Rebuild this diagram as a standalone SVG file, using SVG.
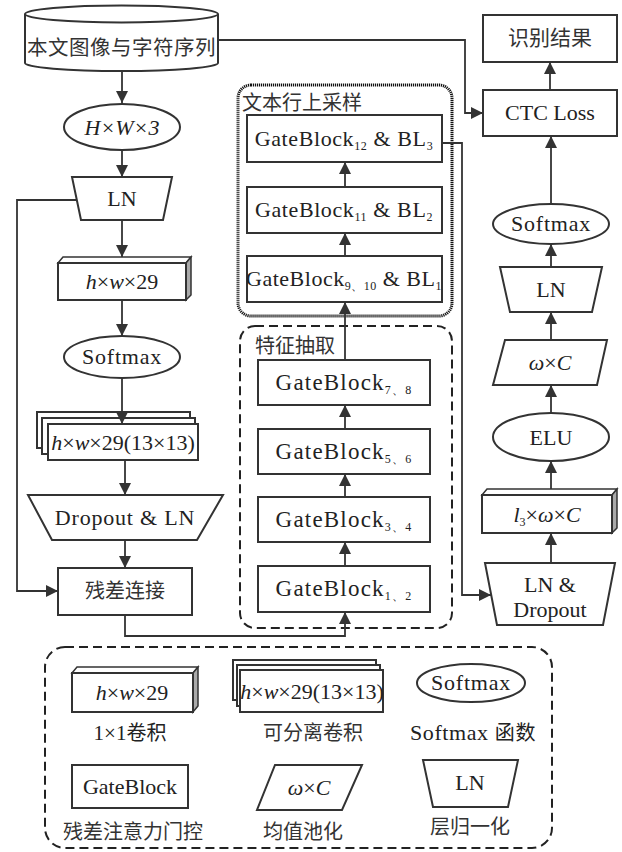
<svg xmlns="http://www.w3.org/2000/svg" width="622" height="852" viewBox="0 0 622 852">
<style>
.s{fill:#fff;stroke:#333;stroke-width:2}
.t{font-family:"Liberation Serif","DejaVu Serif",serif;font-size:22px;fill:#222;text-anchor:middle}
.g{font-size:23px;letter-spacing:1.2px}
.c{font-family:"Noto Sans CJK SC",sans-serif;font-size:20px;fill:#333;text-anchor:middle}
.cj{font-family:"Noto Sans CJK SC",sans-serif;font-size:20px}
.i{font-style:italic}
.l{fill:none;stroke:#333;stroke-width:1.8}
.side{fill:#aaa;stroke:#333;stroke-width:1.5}
.top{fill:#fff;stroke:#333;stroke-width:1.5}
.dot{fill:none;stroke:#111;stroke-width:3;stroke-dasharray:1.2 0.8}
.dash{fill:none;stroke:#222;stroke-width:2;stroke-dasharray:9 5}
</style>
<defs>
<marker id="a" viewBox="0 0 12 12" refX="12" refY="6" markerWidth="12" markerHeight="13" markerUnits="userSpaceOnUse" orient="auto"><path d="M0,0 L12,6 L0,12 z" fill="#333"/></marker>
</defs>

<g id="upsample-group"><rect class="dot" x="238" y="85" width="214" height="231" rx="13"/><text class="c" x="302" y="110">文本行上采样</text></g>
<g id="feature-group"><rect class="dash" x="240" y="326" width="212" height="302" rx="15"/><text class="c" x="295" y="353">特征抽取</text></g>

<g id="input"><path class="s" d="M25,14 L25,63 A96.5,8 0 0 0 218,63 L218,14"/><ellipse class="s" cx="121.5" cy="14" rx="96.5" ry="8.5"/><text class="c" x="121.5" y="55" style="font-size:20.5px;letter-spacing:0.5px">本文图像与字符序列</text></g>
<g id="hw3"><ellipse class="s" cx="122" cy="127" rx="58" ry="23"/><text class="t i" x="122" y="135">H×W×3</text></g>
<g id="ln1"><path class="s" d="M72,177 L172,177 L163,220 L81,220 Z"/><text class="t" x="122" y="206">LN</text></g>
<g id="conv1"><path class="top" d="M58,263 L63,257 L191,257 L186,263 Z"/><path class="side" d="M186,263 L191,257 L191,295 L186,300 Z"/><rect class="s" x="58" y="263" width="128" height="37"/><text class="t" x="122" y="289"><tspan class="i">h</tspan>×<tspan class="i">w</tspan>×29</text></g>
<g id="softmax1"><ellipse class="s" cx="122" cy="357" rx="58" ry="21"/><text class="t" x="122" y="364" letter-spacing="0.8">Softmax</text></g>
<g id="sepconv"><rect class="s" x="37" y="412" width="153" height="36"/><rect class="s" x="42" y="418" width="153" height="36"/><rect class="s" x="48" y="424" width="150" height="36"/><text class="t" x="123" y="450"><tspan class="i">h</tspan>×<tspan class="i">w</tspan>×29(13×13)</text></g>
<g id="dropln"><path class="s" d="M28,495 L223,495 L197,540 L52,540 Z"/><text class="t" x="125" y="525" letter-spacing="0.8">Dropout &amp; LN</text></g>
<g id="residual"><rect class="s" x="58" y="568" width="134" height="47"/><text class="c" x="125" y="598">残差连接</text></g>

<g id="gb12"><rect class="s" x="247" y="115" width="195" height="47"/><text class="t" x="344" y="146" letter-spacing="0.6">GateBlock<tspan font-size="12" dy="4">12</tspan><tspan dy="-4"> &amp; BL</tspan><tspan font-size="12" dy="4">3</tspan></text></g>
<g id="gb11"><rect class="s" x="247" y="187" width="195" height="46"/><text class="t" x="344" y="217" letter-spacing="0.6">GateBlock<tspan font-size="12" dy="4">11</tspan><tspan dy="-4"> &amp; BL</tspan><tspan font-size="12" dy="4">2</tspan></text></g>
<g id="gb910"><rect class="s" x="247" y="256" width="195" height="46"/><text class="t" x="344" y="286" letter-spacing="0.5">GateBlock<tspan font-size="12" dy="4">9、10</tspan><tspan dy="-4"> &amp; BL</tspan><tspan font-size="12" dy="4">1</tspan></text></g>
<g id="gb78"><rect class="s" x="258" y="360" width="172" height="45"/><text class="t g" x="344" y="390">GateBlock<tspan font-size="12" dy="4">7、8</tspan></text></g>
<g id="gb56"><rect class="s" x="258" y="429" width="172" height="45"/><text class="t g" x="344" y="459">GateBlock<tspan font-size="12" dy="4">5、6</tspan></text></g>
<g id="gb34"><rect class="s" x="258" y="497" width="172" height="45"/><text class="t g" x="344" y="527">GateBlock<tspan font-size="12" dy="4">3、4</tspan></text></g>
<g id="gb12b"><rect class="s" x="258" y="566" width="172" height="46"/><text class="t g" x="344" y="596">GateBlock<tspan font-size="12" dy="4">1、2</tspan></text></g>

<g id="result"><rect class="s" x="483" y="15" width="134" height="47"/><text class="c" x="550" y="45" style="font-size:21px">识别结果</text></g>
<g id="ctc"><rect class="s" x="483" y="90" width="134" height="46"/><text class="t" x="550" y="120">CTC Loss</text></g>
<g id="softmax2"><ellipse class="s" cx="551" cy="224" rx="58" ry="20"/><text class="t" x="551" y="231" letter-spacing="0.8">Softmax</text></g>
<g id="ln2"><path class="s" d="M500,267 L602,267 L592,312 L510,312 Z"/><text class="t" x="551" y="297">LN</text></g>
<g id="pool"><path class="s" d="M505,340 L607,340 L597,385 L493,385 Z"/><text class="t" x="550" y="370"><tspan class="i">ω</tspan>×<tspan class="i">C</tspan></text></g>
<g id="elu"><ellipse class="s" cx="551" cy="437" rx="58" ry="24"/><text class="t" x="551" y="445">ELU</text></g>
<g id="conv2"><path class="top" d="M482,495 L487,489 L617,489 L612,495 Z"/><path class="side" d="M612,495 L617,489 L617,528 L612,533 Z"/><rect class="s" x="482" y="495" width="130" height="38"/><text class="t" x="547" y="522"><tspan class="i">l</tspan><tspan font-size="12" dy="4">3</tspan><tspan dy="-4">×</tspan><tspan class="i">ω</tspan>×<tspan class="i">C</tspan></text></g>
<g id="lndrop"><path class="s" d="M485,563 L615,563 L603,625 L497,625 Z"/><text class="t" x="550" y="592">LN &amp;</text><text class="t" x="550" y="617">Dropout</text></g>

<g id="connectors">
<path class="l" d="M122,72 V103" marker-end="url(#a)"/>
<path class="l" d="M122,150 V177" marker-end="url(#a)"/>
<path class="l" d="M122,220 V257" marker-end="url(#a)"/>
<path class="l" d="M122,300 V336" marker-end="url(#a)"/>
<path class="l" d="M122,378 V424" marker-end="url(#a)"/>
<path class="l" d="M125,460 V495" marker-end="url(#a)"/>
<path class="l" d="M125,540 V568" marker-end="url(#a)"/>
<path class="l" d="M76,200 H17 V591 H58" marker-end="url(#a)"/>
<path class="l" d="M125,615 V636 H345 V612" marker-end="url(#a)"/>
<path class="l" d="M345,566 V542" marker-end="url(#a)"/>
<path class="l" d="M345,497 V474" marker-end="url(#a)"/>
<path class="l" d="M345,429 V405" marker-end="url(#a)"/>
<path class="l" d="M345,360 V302" marker-end="url(#a)"/>
<path class="l" d="M345,256 V233" marker-end="url(#a)"/>
<path class="l" d="M345,187 V162" marker-end="url(#a)"/>
<path class="l" d="M218,40 H465 V113 H483" marker-end="url(#a)"/>
<path class="l" d="M442,143 H462 V595 H491" marker-end="url(#a)"/>
<path class="l" d="M550,90 V62" marker-end="url(#a)"/>
<path class="l" d="M551,204 V136" marker-end="url(#a)"/>
<path class="l" d="M551,267 V244" marker-end="url(#a)"/>
<path class="l" d="M551,340 V312" marker-end="url(#a)"/>
<path class="l" d="M551,413 V385" marker-end="url(#a)"/>
<path class="l" d="M551,489 V461" marker-end="url(#a)"/>
<path class="l" d="M551,563 V533" marker-end="url(#a)"/>
</g>

<g id="legend">
<rect class="dash" x="45" y="647" width="507" height="201" rx="20"/>
<g id="leg-conv"><path class="top" d="M72,673 L77,667 L198,667 L193,673 Z"/><path class="side" d="M193,673 L198,667 L198,706 L193,712 Z"/><rect class="s" x="72" y="673" width="121" height="39"/><text class="t" x="132" y="700"><tspan class="i">h</tspan>×<tspan class="i">w</tspan>×29</text><text class="t" x="130" y="740" style="font-size:21px">1×1<tspan class="cj">卷积</tspan></text></g>
<g id="leg-sep"><rect class="s" x="233" y="660" width="143" height="40"/><rect class="s" x="237" y="665" width="143" height="41"/><rect class="s" x="240" y="670" width="143" height="42"/><text class="t" x="312" y="699"><tspan class="i">h</tspan>×<tspan class="i">w</tspan>×29(13×13)</text><text class="c" x="313" y="740">可分离卷积</text></g>
<g id="leg-soft"><ellipse class="s" cx="471" cy="683" rx="54" ry="19"/><text class="t" x="471" y="690" letter-spacing="0.8">Softmax</text><text class="t" x="473" y="740" letter-spacing="0.6">Softmax <tspan class="cj">函数</tspan></text></g>
<g id="leg-gb"><rect class="s" x="72" y="765" width="116" height="43"/><text class="t" x="130" y="794">GateBlock</text><text class="c" x="133" y="839">残差注意力门控</text></g>
<g id="leg-pool"><path class="s" d="M275,765 L362,765 L342,810 L257,810 Z"/><text class="t" x="309" y="795"><tspan class="i">ω</tspan>×<tspan class="i">C</tspan></text><text class="c" x="303" y="839">均值池化</text></g>
<g id="leg-ln"><path class="s" d="M423,760 L518,760 L508,807 L433,807 Z"/><text class="t" x="470" y="790">LN</text><text class="c" x="470" y="834">层归一化</text></g>
</g>
</svg>
